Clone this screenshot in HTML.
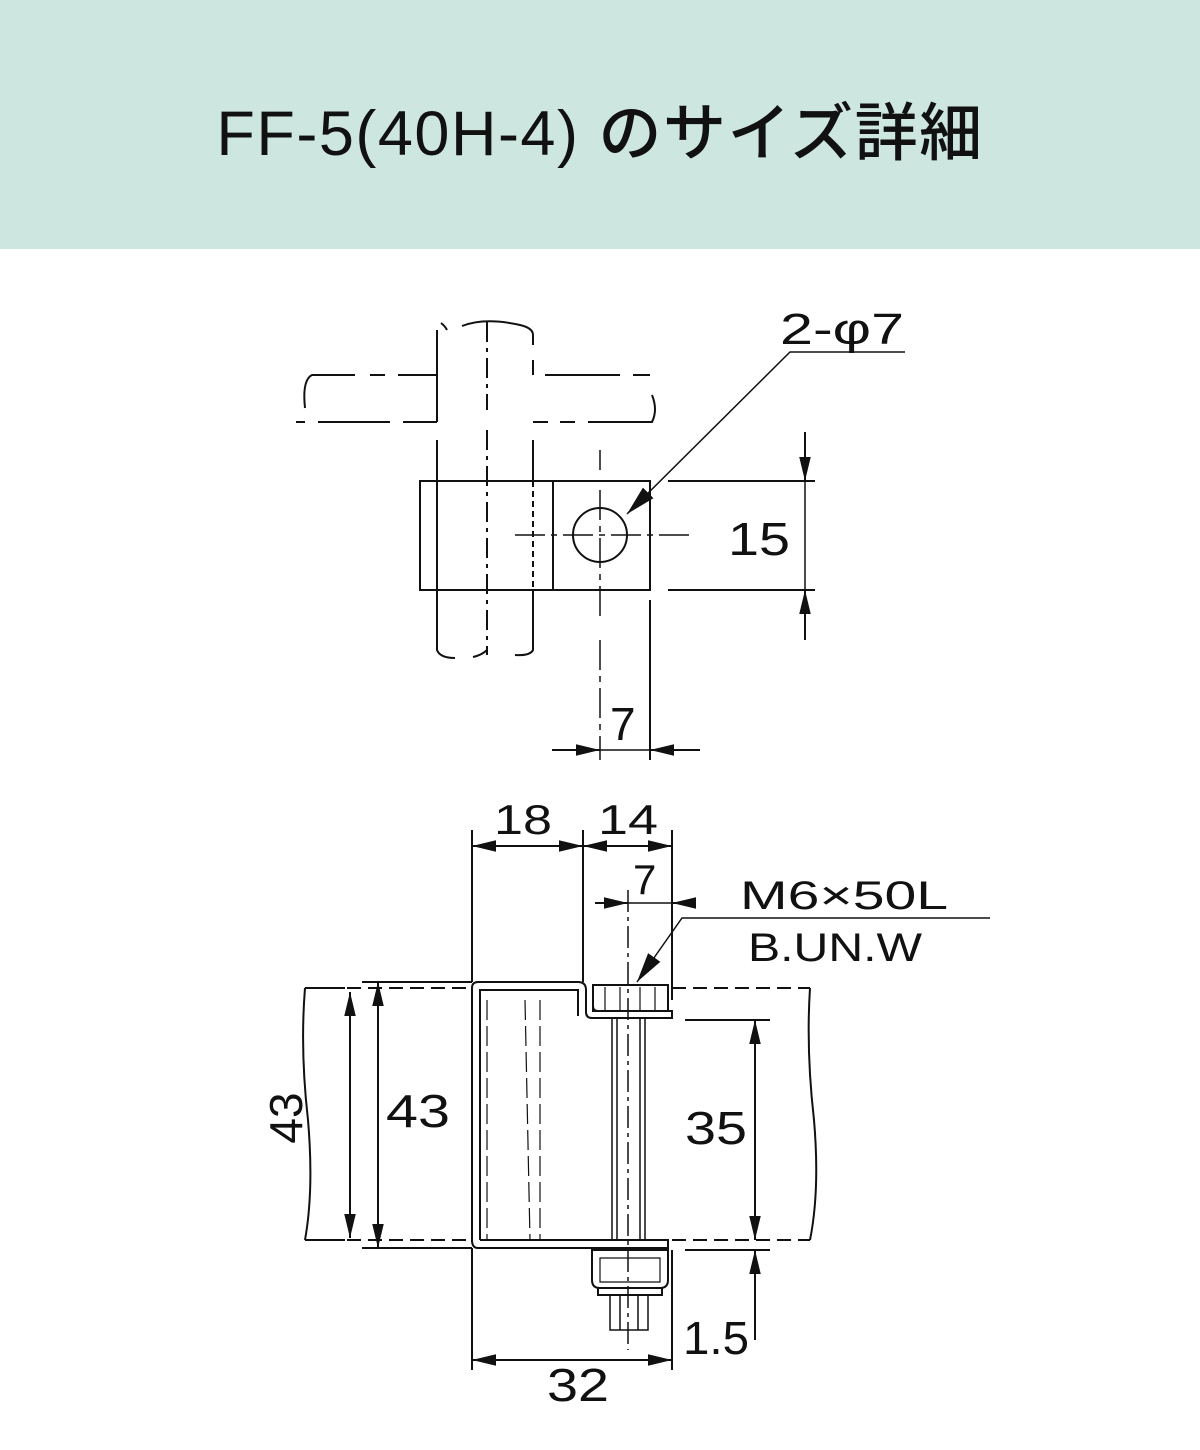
<!DOCTYPE html>
<html><head><meta charset="utf-8"><style>
html,body{margin:0;padding:0;background:#fff;}
body{width:1200px;height:1450px;position:relative;overflow:hidden;}
.hd{position:absolute;left:0;top:0;width:1200px;height:249px;background:#cde6df;}
.hd div{position:absolute;left:0;width:1200px;top:83px;text-align:center;font:500 63px "Liberation Sans","Noto Sans CJK JP",sans-serif;color:#111;letter-spacing:1.5px;}
svg{position:absolute;left:0;top:0;}
text{font-family:"Liberation Sans",sans-serif;fill:#111;}
</style></head><body>
<div class="hd"><div>FF-5(40H-4) のサイズ詳細</div></div>
<svg width="1200" height="1450" viewBox="0 0 1200 1450">
<defs>
<marker id="a" viewBox="0 0 10 10" refX="10" refY="5" markerWidth="24" markerHeight="24" markerUnits="userSpaceOnUse" orient="auto"><path d="M0,2.6 L10,5 L0,7.4z" fill="#111"/></marker>
<marker id="b" viewBox="0 0 10 10" refX="10" refY="5" markerWidth="30" markerHeight="30" markerUnits="userSpaceOnUse" orient="auto"><path d="M0,2.5 L10,5 L0,7.5z" fill="#111"/></marker>
</defs>
<g stroke="#111" stroke-width="2" fill="none">
<path d="M437,330 V422 M437,440 V650 Q440,658 455,658"/>
<path d="M533,335 V345 M533,360 V375 M533,440 V480 M533,590 V650 Q530,656 515,655"/>
<path d="M441,323 Q445,326 447,330 M462,326 Q485,317 520,325 Q533,328 533,335"/>
<path d="M487,322 V410 M487,430 V655" stroke-dasharray="20,6,4,6"/>
<path d="M473,657 Q482,655 487,650"/>
<path d="M437,375 H398 M385,375 H370 M355,375 H312 Q302,380 305,408" />
<path d="M545,375 H620 M633,375 H650"/>
<path d="M296,422 H305 M318,422 H390 M403,422 H437 M533,422 H548 M560,422 H575 M588,422 H652 Q658,410 652,395"/>
<path d="M437,481 V590 M533,481 V590" stroke-dasharray="6,4"/>
<rect x="420" y="481" width="230" height="109"/>
<path d="M553,481 V590"/>
<circle cx="600" cy="535" r="27"/>
<path d="M600,450 V470 M600,490 V620 M600,640 V760 M515,535 H690" stroke-width="1.5" stroke-dasharray="30,6,6,6"/>
<path d="M650,600 V760"/>
<path d="M668,481 H815 M668,590 H815"/>
<path d="M805,432 V481" marker-end="url(#a)"/>
<path d="M805,640 V590" marker-end="url(#a)"/>
<path d="M805,481 V590" stroke-width="1.5"/>
<path d="M552,750 H600" marker-end="url(#a)"/>
<path d="M700,750 H650" marker-end="url(#a)"/>
<path d="M600,750 H650" stroke-width="1.5"/>
<path d="M905,352 H790 L627,514" stroke-width="1.5" marker-end="url(#b)"/>
<path d="M472,830 V982 M583,830 V982 M672,830 V1000 M472,1248 V1370 M672,1250 V1370"/>
<path d="M527,846 H472" marker-end="url(#a)"/>
<path d="M527,846 H583" marker-end="url(#a)"/>
<path d="M628,846 H583" marker-end="url(#a)"/>
<path d="M628,846 H672" marker-end="url(#a)"/>
<path d="M595,903 H628" marker-end="url(#a)"/>
<path d="M690,903 H672" marker-end="url(#a)"/>
<path d="M628,903 H672" stroke-width="1.5"/>
<path d="M628,890 V1350" stroke-width="1.5" stroke-dasharray="22,5,4,5"/>
<path d="M990,918 H682 L637,982" stroke-width="1.5" marker-end="url(#b)"/>
<path d="M472,1242 V988 Q472,982 478,982 H578 Q586,982 586,990 V1012 Q586,1018 592,1018 H672 V1011 H598 Q593,1011 593,1006 V988"/>
<path d="M480,1240 V990 H578 V1016"/>
<path d="M480,1240 H668 V1248 H478 Q472,1248 472,1240" />
<path d="M487,1000 V1240 M525,1000 L530,1240 M540,1000 V1240" stroke-width="1.2" stroke-dasharray="20,6"/>
<path d="M305,988 H472 M672,988 H810 M305,1240 H472 M672,1240 H810" stroke-dasharray="14,7"/>
<path d="M305,988 Q300,1050 308,1120 Q314,1190 305,1240"/>
<path d="M810,988 Q806,1050 814,1120 Q820,1190 810,1240"/>
<rect x="593" y="985" width="75" height="26"/>
<path d="M605,987 V1010 M620,987 V1010 M640,987 V1010 M655,987 V1010" stroke-width="1.2"/>
<path d="M612,1018 V1240 M645,1018 V1240 M617,1018 V1240 M640,1018 V1240" stroke-width="1.5"/>
<path d="M592,1250 H668 V1280 Q668,1288 660,1288 H600 Q592,1288 592,1280Z"/>
<path d="M600,1258 H660 V1282 H600Z" stroke-width="1.2"/>
<path d="M598,1288 H662 V1295 H598Z"/>
<path d="M610,1295 V1330 H648 V1295 M620,1295 V1330 M638,1295 V1330" stroke-width="1.5"/>
<path d="M362,982 H472 M362,1248 H472 M305,988 H345 M305,1240 H345"/>
<path d="M378,1115 V982" marker-end="url(#a)"/>
<path d="M378,1115 V1248" marker-end="url(#a)"/>
<path d="M350,1115 V992" marker-end="url(#a)"/>
<path d="M350,1115 V1238" marker-end="url(#a)"/>
<path d="M685,1020 H770 M685,1250 H770"/>
<path d="M755,1130 V1020" marker-end="url(#a)"/>
<path d="M755,1130 V1240" marker-end="url(#a)"/>
<path d="M755,1340 V1250" marker-end="url(#a)"/>
<path d="M572,1360 H472" marker-end="url(#a)"/>
<path d="M572,1360 H672" marker-end="url(#a)"/>
</g>
<g font-size="46">
<text x="780" y="344" font-size="44" textLength="124" lengthAdjust="spacingAndGlyphs">2-φ7</text>
<text x="728" y="555" textLength="62" lengthAdjust="spacingAndGlyphs">15</text>
<text x="610" y="740">7</text>
<text x="494" y="834" font-size="42" textLength="58" lengthAdjust="spacingAndGlyphs">18</text>
<text x="598" y="834" font-size="42" textLength="60" lengthAdjust="spacingAndGlyphs">14</text>
<text x="633" y="894" font-size="42">7</text>
<text x="740" y="909" font-size="40" textLength="208" lengthAdjust="spacingAndGlyphs">M6×50L</text>
<text x="748" y="961" font-size="40" textLength="174" lengthAdjust="spacingAndGlyphs">B.UN.W</text>
<text x="386" y="1127" textLength="64" lengthAdjust="spacingAndGlyphs">43</text>
<text x="302" y="1118" transform="rotate(-90 302 1118)" text-anchor="middle">43</text>
<text x="685" y="1144" textLength="62" lengthAdjust="spacingAndGlyphs">35</text>
<text x="683" y="1354" textLength="66" lengthAdjust="spacingAndGlyphs">1.5</text>
<text x="547" y="1401" textLength="62" lengthAdjust="spacingAndGlyphs">32</text>
</g>
</svg>
</body></html>
